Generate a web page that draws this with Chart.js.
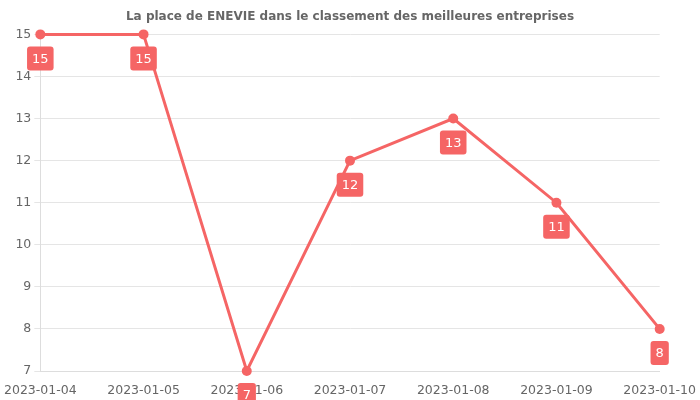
<!DOCTYPE html>
<html>
<head>
<meta charset="utf-8">
<script src="https://cdn.jsdelivr.net/npm/chart.js@4"></script>
<style>
  html, body { margin: 0; padding: 0; background: #fff; }
  #wrap { width: 700px; height: 400px; }
</style>
</head>
<body>
<div id="wrap"><canvas id="rankChart"></canvas></div>
<script>
// data
const dates = ['2023-01-04', '2023-01-05', '2023-01-06', '2023-01-07', '2023-01-08', '2023-01-09', '2023-01-10'];
const ranks = [15, 15, 7, 12, 13, 11, 8];
const yTicks = [7, 8, 9, 10, 11, 12, 13, 14, 15];

const red = '#f56565';
Chart.defaults.font.family = '"DejaVu Sans", sans-serif';
Chart.defaults.font.size = 12;
Chart.defaults.color = '#666';

// small label boxes under each point
const boxLabels = {
  id: 'boxLabels',
  afterDatasetsDraw(chart) {
    const ctx = chart.ctx;
    const meta = chart.getDatasetMeta(0);
    ctx.save();
    ctx.font = '13px "DejaVu Sans", sans-serif';
    ctx.textAlign = 'center';
    ctx.textBaseline = 'middle';
    meta.data.forEach((pt, i) => {
      const txt = String(ranks[i]);
      const w = ctx.measureText(txt).width + 10;
      const h = 24;
      const x = pt.x - w / 2;
      const y = pt.y + 12;
      ctx.fillStyle = red;
      ctx.beginPath();
      ctx.roundRect(x, y, w, h, 3);
      ctx.fill();
      ctx.fillStyle = '#fff';
      ctx.fillText(txt, pt.x, y + h / 2 + 1);
    });
    ctx.restore();
  }
};

new Chart(document.getElementById('rankChart'), {
  type: 'line',
  data: {
    labels: dates,
    datasets: [{
      data: ranks,
      borderColor: red,
      backgroundColor: red,
      borderWidth: 3,
      pointRadius: 5,
      pointBorderWidth: 0,
      pointBackgroundColor: red,
      tension: 0,
      clip: false
    }]
  },
  options: {
    responsive: true,
    maintainAspectRatio: false,
    animation: false,
    layout: { padding: { top: 0, right: 0, bottom: -2, left: 0 } },
    plugins: {
      legend: { display: false },
      tooltip: { enabled: false },
      title: {
        display: true,
        text: 'La place de ENEVIE dans le classement des meilleures entreprises',
        color: '#666',
        font: { size: 12, weight: 'bold' },
        padding: { top: 10, bottom: 10 }
      }
    },
    scales: {
      x: {
        offset: false,
        grid: { display: false, drawTicks: true },
        border: { color: '#ddd' },
        ticks: { maxRotation: 0, padding: 4, font: { size: 12.5 } }
      },
      y: {
        min: 7,
        max: 15,
        afterBuildTicks(axis) { axis.ticks = yTicks.map(v => ({ value: v })); },
        grid: { color: '#e5e5e5', tickLength: 6 },
        border: { color: '#ddd' },
        ticks: { padding: 3, font: { size: 12.5 } }
      }
    }
  },
  plugins: [boxLabels]
});
</script>
</body>
</html>
